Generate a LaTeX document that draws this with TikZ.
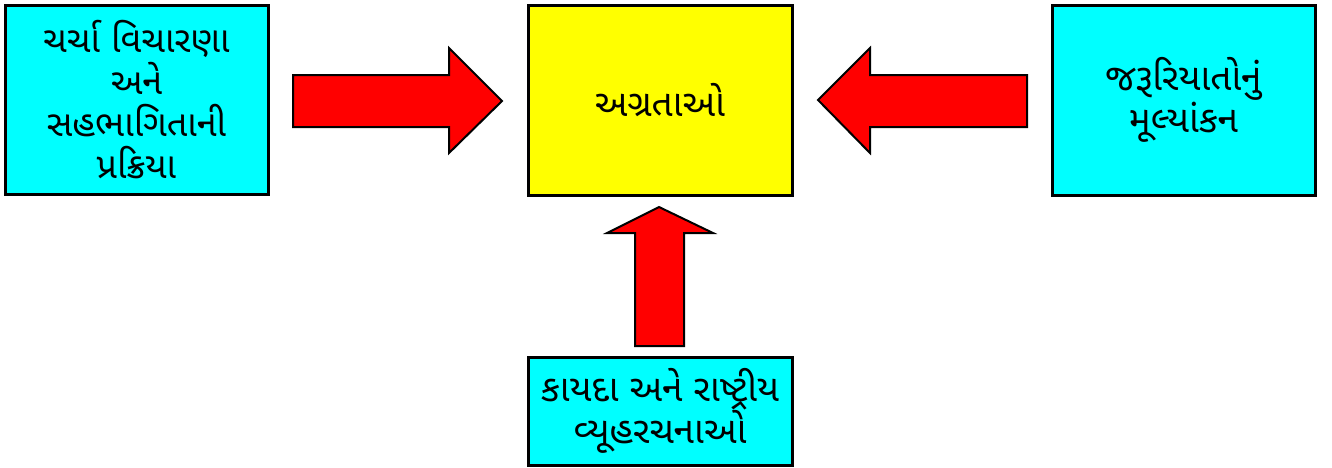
\documentclass[tikz,border=0pt]{standalone}
\usepackage{fontspec}
\newfontfamily\gujfont[Script=Gujarati]{Noto Sans Gujarati UI}
\definecolor{boxcyan}{RGB}{0,255,255}
\definecolor{boxyellow}{RGB}{255,255,0}
\definecolor{arrred}{RGB}{255,0,0}
\tikzset{
  box/.style={draw=black, line width=3pt, inner sep=0pt, align=center,
    font=\gujfont\fontsize{37}{40}\selectfont},
  blockarrow/.style={draw=black, fill=arrred, line width=2pt, line join=miter}
}
\begin{document}
\begin{tikzpicture}[x=1pt,y=-1pt]
\useasboundingbox (0,0) rectangle (1332,467);
\node[box, fill=boxcyan, minimum width=263pt, minimum height=189pt,
  font=\gujfont\fontsize{36}{42}\selectfont] (disc) at (136.5,100)
  {ચર્ચા વિચારણા\\અને\\સહભાગિતાની\\પ્રક્રિયા};
\node[box, fill=boxyellow, minimum width=264pt, minimum height=190pt] (prio) at (660,100)
  {અગ્રતાઓ};
\node[box, fill=boxcyan, minimum width=263pt, minimum height=190pt] (need) at (1183.5,100)
  {જરૂરિયાતોનું\\મૂલ્યાંકન};
\node[box, fill=boxcyan, minimum width=264pt, minimum height=108pt,
  font=\gujfont\fontsize{37}{37}\selectfont] (law) at (660,411)
  {કાયદા અને રાષ્ટ્રીય\\વ્યૂહરચનાઓ};
% block arrows
\draw[blockarrow] (293,75) -- (449,75) -- (449,48) -- (502,101) -- (449,153) -- (449,127) -- (293,127) -- cycle;
\draw[blockarrow] (1027,75) -- (870,75) -- (870,48) -- (818,100) -- (870,153) -- (870,127) -- (1027,127) -- cycle;
\draw[blockarrow] (635,346) -- (635,233) -- (607,233) -- (659,207) -- (713,233) -- (684,233) -- (684,346) -- cycle;
\end{tikzpicture}
\end{document}
